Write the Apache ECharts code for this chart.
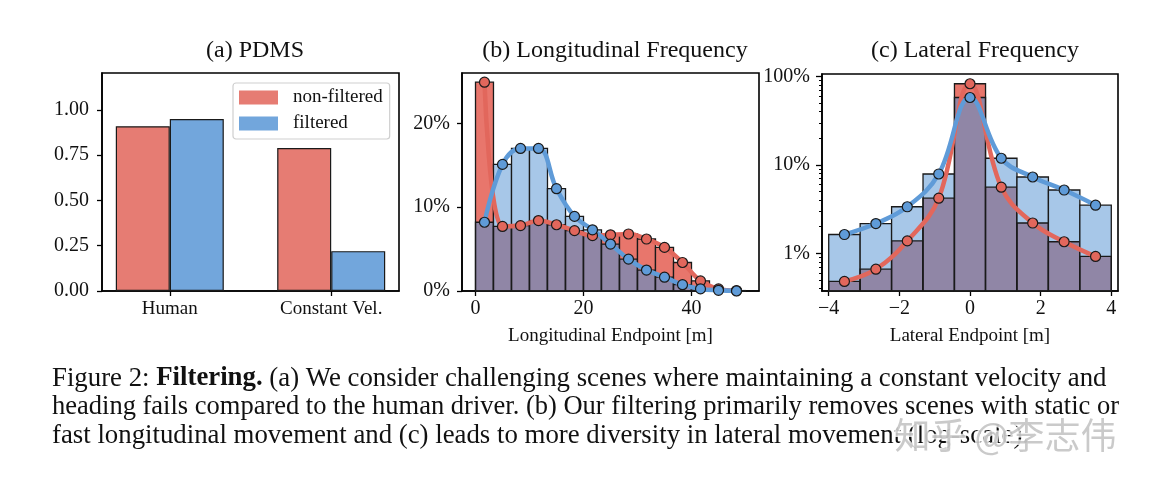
<!DOCTYPE html>
<html>
<head>
<meta charset="utf-8">
<script src="https://cdn.jsdelivr.net/npm/echarts@6/dist/echarts.min.js"></script>
<style>
  html, body { margin: 0; padding: 0; background: #fff; }
  #chart { width: 1149px; height: 486px; }
</style>
</head>
<body>
<div id="chart"></div>
<script>
// (a) PDMS
var pdmsCats = ['Human', 'Constant Vel.'];
var pdmsNonFiltered = [0.91, 0.79];
var pdmsFiltered = [0.95, 0.22];
var pdmsTicks = [0, 0.25, 0.5, 0.75, 1.0];

// (b) longitudinal endpoint, share of scenes per bin [%]
var longEdges = [0, 3.33, 6.67, 10, 13.33, 16.67, 20, 23.33, 26.67, 30, 33.33, 36.67, 40, 43.33, 46.67, 50];
var longNonFiltered = [24.9, 7.7, 7.8, 8.4, 7.9, 7.2, 6.6, 6.7, 6.8, 6.2, 5.2, 3.4, 1.2, 0.25, 0.05];
var longFiltered = [8.2, 15.1, 17.0, 17.0, 12.2, 8.9, 7.3, 5.6, 3.8, 2.5, 1.65, 0.75, 0.25, 0.08, 0.0];
var longXTicks = [0, 20, 40];
var longYTicks = [0, 10, 20];

// (c) lateral endpoint, share of scenes per bin [%], log scale
var latEdges = [-4, -3.11, -2.22, -1.33, -0.44, 0.44, 1.33, 2.22, 3.11, 4];
var latNonFiltered = [0.48, 0.66, 1.38, 4.2, 83, 5.6, 2.2, 1.35, 0.92];
var latFiltered = [1.63, 2.17, 3.36, 7.9, 58, 11.9, 7.3, 5.2, 3.5];
var latXTicks = [-4, -2, 0, 2, 4];
var latYTicks = [1, 10, 100];
var latYMinor = [0.4, 0.5, 0.6, 0.7, 0.8, 0.9, 2, 3, 4, 5, 6, 7, 8, 9, 20, 30, 40, 50, 60, 70, 80, 90];

var captionLines = [
  ['Figure 2: ', 'Filtering.', ' (a) We consider challenging scenes where maintaining a constant velocity and'],
  ['', '', 'heading fails compared to the human driver. (b) Our filtering primarily removes scenes with static or'],
  ['', '', 'fast longitudinal movement and (c) leads to more diversity in lateral movement (log-scale).']
];
var captionSizes = [26.8, 26.5, 26.8];

var SERIF = '"Liberation Serif", "Times New Roman", serif';
var RED = '#e8766c', BLUE = '#a7c7e8', PURPLE = '#9086a6';
var RED_LINE = '#e2675c', BLUE_LINE = '#5f9bd8';
var BAR_RED = '#e67c73', BAR_BLUE = '#72a6dc';

function centers(edges) {
  var c = [];
  for (var i = 0; i < edges.length - 1; i++) c.push((edges[i] + edges[i + 1]) / 2);
  return c;
}
function histData(edges, red, blue) {
  return red.map(function (v, i) { return [edges[i], edges[i + 1], v, blue[i]]; });
}
function pointData(edges, vals) {
  var c = centers(edges);
  return vals.map(function (v, i) { return [c[i], v]; });
}

// two overlapping histograms: shared part purple, excess in the colour of the taller one,
// black outline of both bars
function renderHist(params, api) {
  var x0 = api.value(0), x1 = api.value(1), red = api.value(2), blue = api.value(3);
  var cs = params.coordSys;
  var bottom = cs.y + cs.height;
  function yPix(v) { return v > 0 ? api.coord([x0, v])[1] : bottom; }
  var xa = api.coord([x0, 1])[0], xb = api.coord([x1, 1])[0];
  var w = xb - xa;
  var lo = Math.min(red, blue), hi = Math.max(red, blue);
  var yLo = yPix(lo), yHi = yPix(hi), yR = yPix(red), yB = yPix(blue);
  var edge = { fill: null, stroke: '#1a1a1a', lineWidth: 1.3 };
  return {
    type: 'group',
    children: [
      { type: 'rect', shape: { x: xa, y: yLo, width: w, height: bottom - yLo }, style: { fill: PURPLE } },
      { type: 'rect', shape: { x: xa, y: yHi, width: w, height: yLo - yHi }, style: { fill: red > blue ? RED : BLUE } },
      { type: 'rect', shape: { x: xa, y: yR, width: w, height: bottom - yR }, style: edge },
      { type: 'rect', shape: { x: xa, y: yB, width: w, height: bottom - yB }, style: edge }
    ]
  };
}

function lineSeries(name, xi, yi, data, color) {
  return {
    name: name, type: 'line', xAxisIndex: xi, yAxisIndex: yi, data: data,
    smooth: 0.4, z: 3,
    lineStyle: { color: color, width: 4.5 },
    symbol: 'circle', symbolSize: 10,
    itemStyle: { color: color, borderColor: '#1a1a1a', borderWidth: 1.2 }
  };
}

var tickStyle = { show: true, length: 5, lineStyle: { color: '#000', width: 1.3 } };
var lineStyleAxis = { show: true, onZero: false, lineStyle: { color: '#000', width: 1.6 } };
var lblNum = { fontFamily: SERIF, fontSize: 20, color: '#111' };
var lblTxt = { fontFamily: SERIF, fontSize: 19, color: '#111' };

var grids = [
  { left: 102, top: 73, width: 297, height: 218 },
  { left: 462, top: 73, width: 297, height: 218 },
  { left: 822, top: 74, width: 296, height: 217 }
].map(function (g) {
  return Object.assign({ show: true, borderColor: '#000', borderWidth: 1.6, backgroundColor: 'transparent' }, g);
});

function pctLabel(v) { return Math.round(v) + '%'; }
function minusLabel(v) { return v < 0 ? '\u2212' + Math.abs(v) : String(v); }

var option = {
  animation: false,
  backgroundColor: '#fff',
  title: [
    { text: '(a) PDMS', left: 250, textAlign: 'center', top: 34 },
    { text: '(b) Longitudinal Frequency', left: 610, textAlign: 'center', top: 34 },
    { text: '(c) Lateral Frequency', left: 970, textAlign: 'center', top: 34 }
  ].map(function (t) {
    t.textStyle = { fontFamily: SERIF, fontSize: 24, fontWeight: 'normal', color: '#111' };
    return t;
  }),
  legend: {
    data: ['non-filtered', 'filtered'],
    orient: 'vertical', left: 233, top: 83,
    itemWidth: 39, itemHeight: 14, itemGap: 7,
    padding: [5, 7, 6, 6],
    icon: 'rect',
    itemStyle: { borderWidth: 0 },
    borderColor: '#cfcfcf', borderWidth: 1.2, borderRadius: 3,
    backgroundColor: 'rgba(255,255,255,0.85)',
    selectedMode: false,
    textStyle: { fontFamily: SERIF, fontSize: 19, color: '#111', padding: [0, 0, 0, 10] }
  },
  grid: grids,
  xAxis: [
    {
      gridIndex: 0, type: 'value', min: -0.42, max: 1.42,
      axisLine: lineStyleAxis, splitLine: { show: false },
      axisTick: Object.assign({ customValues: [0, 1] }, tickStyle),
      axisLabel: Object.assign({ customValues: [0, 1], margin: 9, formatter: function (v) { return pdmsCats[Math.round(v)]; } }, lblTxt)
    },
    {
      gridIndex: 1, type: 'value', min: -2.5, max: 52.5,
      name: 'Longitudinal Endpoint [m]', nameLocation: 'middle', nameGap: 36,
      nameTextStyle: lblTxt,
      axisLine: lineStyleAxis, splitLine: { show: false },
      axisTick: Object.assign({ customValues: longXTicks }, tickStyle),
      axisLabel: Object.assign({ customValues: longXTicks, margin: 8 }, lblNum)
    },
    {
      gridIndex: 2, type: 'value', min: -4.19, max: 4.19,
      name: 'Lateral Endpoint [m]', nameLocation: 'middle', nameGap: 36,
      nameTextStyle: lblTxt,
      axisLine: lineStyleAxis, splitLine: { show: false },
      axisTick: Object.assign({ customValues: latXTicks }, tickStyle),
      axisLabel: Object.assign({ customValues: latXTicks, margin: 8, formatter: minusLabel }, lblNum)
    }
  ],
  yAxis: [
    {
      gridIndex: 0, type: 'value', min: 0, max: 1.204,
      axisLine: lineStyleAxis, splitLine: { show: false },
      axisTick: Object.assign({ customValues: pdmsTicks }, tickStyle),
      axisLabel: Object.assign({ customValues: pdmsTicks, margin: 13, formatter: function (v) { return v.toFixed(2); } }, lblNum)
    },
    {
      gridIndex: 1, type: 'value', min: 0, max: 26,
      axisLine: lineStyleAxis, splitLine: { show: false },
      axisTick: Object.assign({ customValues: longYTicks }, tickStyle),
      axisLabel: Object.assign({ customValues: longYTicks, margin: 12, formatter: pctLabel }, lblNum)
    },
    {
      gridIndex: 2, type: 'log', logBase: 10, min: 0.374, max: 107, position: 'left',
      axisLine: lineStyleAxis, splitLine: { show: false },
      axisTick: Object.assign({ customValues: latYTicks }, tickStyle, { length: 6 }),
      axisLabel: Object.assign({ customValues: latYTicks, margin: 12, formatter: pctLabel }, lblNum)
    },
    {
      // minor log ticks
      gridIndex: 2, type: 'log', logBase: 10, min: 0.374, max: 107, position: 'left', offset: 0,
      axisLine: { show: false, onZero: false }, splitLine: { show: false },
      axisTick: { show: true, customValues: latYMinor, length: 3, lineStyle: { color: '#000', width: 1 } },
      axisLabel: { show: false }
    }
  ],
  series: [
    {
      name: 'non-filtered', type: 'bar', xAxisIndex: 0, yAxisIndex: 0,
      data: pdmsNonFiltered.map(function (v, i) { return [i, v]; }),
      barWidth: 54, barGap: '0%',
      itemStyle: { color: BAR_RED, borderColor: '#1a1a1a', borderWidth: 1.2 }
    },
    {
      name: 'filtered', type: 'bar', xAxisIndex: 0, yAxisIndex: 0,
      data: pdmsFiltered.map(function (v, i) { return [i, v]; }),
      barWidth: 54, barGap: '0%',
      itemStyle: { color: BAR_BLUE, borderColor: '#1a1a1a', borderWidth: 1.2 }
    },
    {
      name: 'long hist', type: 'custom', xAxisIndex: 1, yAxisIndex: 1, z: 1,
      renderItem: renderHist, data: histData(longEdges, longNonFiltered, longFiltered)
    },
    lineSeries('long non-filtered', 1, 1, pointData(longEdges, longNonFiltered), RED_LINE),
    lineSeries('long filtered', 1, 1, pointData(longEdges, longFiltered), BLUE_LINE),
    {
      name: 'lat hist', type: 'custom', xAxisIndex: 2, yAxisIndex: 2, z: 1,
      renderItem: renderHist, data: histData(latEdges, latNonFiltered, latFiltered)
    },
    lineSeries('lat non-filtered', 2, 2, pointData(latEdges, latNonFiltered), RED_LINE),
    lineSeries('lat filtered', 2, 2, pointData(latEdges, latFiltered), BLUE_LINE)
  ],
  graphic: captionLines.map(function (ln, i) {
    var fs = captionSizes[i];
    return {
      type: 'text', left: 52, top: 365 + i * 28.5, z: 10,
      style: {
        text: (ln[0] ? '{n|' + ln[0] + '}' : '') + (ln[1] ? '{b|' + ln[1] + '}' : '') + '{n|' + ln[2] + '}',
        rich: {
          n: { fontFamily: SERIF, fontSize: fs, fill: '#111' },
          b: { fontFamily: SERIF, fontSize: fs, fontWeight: 'bold', fill: '#111' }
        }
      }
    };
  }).concat([{
    type: 'text', left: 893, top: 416, z: 20,
    style: {
      text: '知乎 @李志伟',
      fontFamily: '"Noto Sans CJK SC", sans-serif', fontSize: 36,
      fill: 'rgba(180,180,180,0.7)', stroke: 'rgba(255,255,255,0.8)', lineWidth: 3
    }
  }])
};

var chart = echarts.init(document.getElementById('chart'), null, { renderer: 'canvas' });
chart.setOption(option);
</script>
</body>
</html>
